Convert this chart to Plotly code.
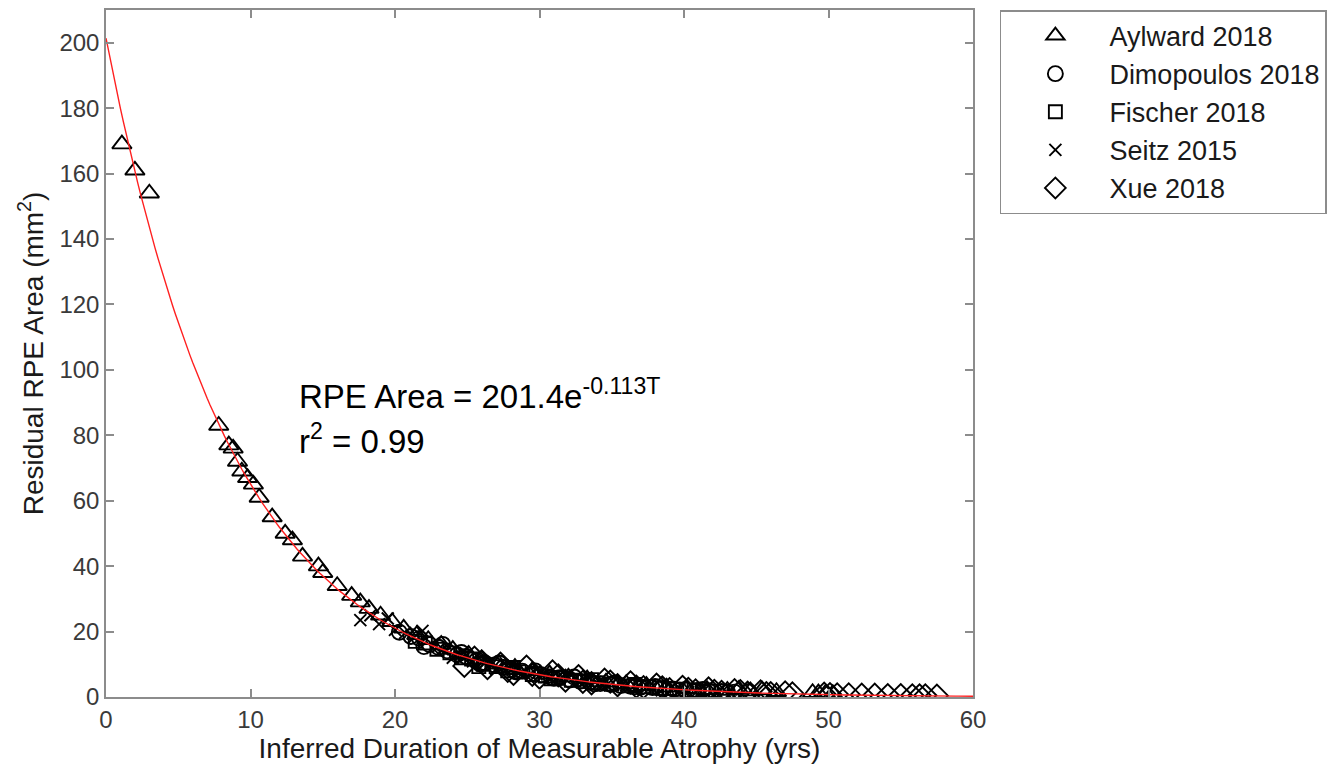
import numpy as np
import plotly.graph_objects as go

# ---- data ----
ayl_x = [1.1, 2.0, 3.0, 7.8, 8.5, 8.8, 9.1, 9.4, 9.8, 10.2, 10.6, 11.5, 12.4, 12.9, 13.6, 14.7,
         15.0, 16.0, 17.0, 17.6, 18.2, 19.0, 19.8, 20.6, 21.5, 22.3, 23.2, 24.0, 25.1, 26.0,
         27.2, 28.3, 29.5, 30.7, 32.0, 33.3, 34.6, 36.0, 37.4, 38.8, 40.2, 41.6, 43.0, 43.8,
         44.6, 45.4, 46.4, 48.9, 49.3, 49.8, 50.3]
ayl_y = [169, 161, 154, 83, 77, 76, 72, 69, 67, 65, 61, 55, 50, 48, 43, 40,
         38, 34, 31, 29, 27, 25, 23, 21, 19, 17.5, 16, 14.5, 13, 11.5,
         10, 9, 8, 7, 6, 5.5, 4.5, 4, 3.5, 3, 2.5, 2.2, 2, 2.3,
         1.8, 2.1, 1.6, 1.3, 1.2, 1.1, 1.0]

dim_x = [20.3, 21.1, 21.7, 22.0, 22.4, 23.0, 23.3, 23.6, 24.3, 24.6, 24.9, 25.6, 25.9, 26.2,
         26.9, 27.2, 27.5, 28.1, 28.4, 28.8, 29.4, 29.7, 30.1, 30.8, 31.0, 31.4, 32.1, 32.4,
         32.8, 33.5, 33.8, 34.2, 34.9, 35.2, 35.6, 36.3, 36.6, 37.0, 37.8, 38.0, 38.5, 39.3,
         39.7, 40.1, 40.9, 41.3, 41.7, 42.6, 43.0, 43.5, 44.5]
dim_y = [19.8, 18.5, 17.9, 15.4, 16.0, 15.2, 16.1, 14.1, 12.9, 13.6, 12.4, 11.0, 10.1, 10.5,
         9.8, 10.4, 9.0, 8.4, 7.6, 7.9, 7.1, 8.0, 6.8, 6.0, 5.7, 5.9, 5.2, 6.1,
         4.8, 4.6, 4.0, 4.1, 3.9, 4.3, 3.5, 3.3, 3.1, 3.0, 2.9, 3.2, 2.6, 2.4,
         2.1, 2.2, 2.0, 2.3, 1.9, 1.7, 1.5, 1.5, 1.7]

fis_x = [21.4, 22.1, 22.9, 23.8, 24.6, 25.3, 25.8, 26.1, 27.0, 27.8, 28.2, 28.6, 29.5, 30.4,
         30.8, 31.3, 32.2, 33.1, 33.6, 34.0, 35.0, 36.1, 36.6, 37.2, 38.3, 39.0, 39.5, 40.7,
         41.3, 41.9]
fis_y = [17.0, 16.5, 14.6, 13.5, 12.0, 11.6, 9.3, 10.0, 9.3, 8.0, 9.0, 7.7, 6.9, 6.4,
         5.6, 5.8, 5.1, 4.7, 5.3, 4.3, 3.9, 3.4, 3.8, 3.1, 2.7, 2.6, 2.4, 2.1,
         1.7, 1.8]

sei_x = [17.6, 18.3, 18.9, 19.5, 20.0, 20.7, 21.3, 21.9, 22.6, 23.3, 24.0, 24.7, 25.4, 26.2,
         27.0, 27.9, 28.8, 29.8, 30.9, 32.0, 33.2, 34.5, 36.0]
sei_y = [23.5, 25.0, 22.3, 24.0, 20.5, 19.6, 18.2, 20.2, 15.0, 14.6, 12.0, 13.8, 10.9, 10.3,
         8.6, 8.9, 7.2, 6.9, 6.1, 5.7, 4.9, 4.4, 3.6]

xue_x = [24.8, 25.5, 26.0, 26.4, 27.3, 27.8, 28.2, 29.1, 29.5, 30.0, 30.9, 31.3, 31.8, 32.7,
         33.0, 33.6, 34.5, 34.9, 35.4, 36.3, 36.7, 37.2, 38.1, 38.5, 39.0, 39.9, 40.3, 40.8,
         41.7, 42.1, 42.6, 43.5, 43.9, 44.4, 45.3, 45.7, 46.0, 47.0, 47.5, 49.7, 50.1, 50.6,
         51.4, 52.3, 53.2, 54.1, 55.0, 55.8, 56.3, 56.7, 57.5]
xue_y = [9.5, 12.0, 10.9, 8.8, 10.2, 8.0, 7.1, 9.3, 6.8, 5.9, 7.8, 6.6, 5.0, 6.4,
         4.6, 4.2, 5.3, 4.7, 3.6, 4.5, 3.2, 3.0, 3.8, 2.9, 2.4, 3.1, 2.5, 2.0,
         2.6, 1.9, 1.6, 2.1, 1.8, 1.3, 1.7, 1.2, 1.2, 1.4, 1.1, 1.0, 0.9, 0.8,
         0.8, 0.7, 0.7, 0.6, 0.6, 0.5, 0.5, 0.5, 0.4]

fit_a = 201.4
fit_b = -0.113

series = [
    ("Aylward 2018", ayl_x, ayl_y, "triangle-up-open", 17),
    ("Dimopoulos 2018", dim_x, dim_y, "circle-open", 15),
    ("Fischer 2018", fis_x, fis_y, "square-open", 13),
    ("Seitz 2015", sei_x, sei_y, "x-thin-open", 12),
    ("Xue 2018", xue_x, xue_y, "diamond-open", 17),
]

FONT = "Liberation Sans, Arial, sans-serif"

fig = go.Figure()
for i, (name, xs, ys, sym, sz) in enumerate(series):
    fig.add_trace(go.Scatter(
        x=xs, y=ys, mode="markers", name=name, legendgroup=f"g{i}",
        marker=dict(symbol=sym, size=sz, color="black",
                    line=dict(color="black", width=1.9)),
    ))

t = np.linspace(0, 60, 301)
fig.add_trace(go.Scatter(x=t, y=fit_a * np.exp(fit_b * t), mode="lines",
                         line=dict(color="#ff2020", width=1.4), showlegend=False,
                         hoverinfo="skip"))

axis_common = dict(
    showline=True, linecolor="#8c8c8c", linewidth=1.5, mirror="ticks",
    ticks="inside", ticklen=8, tickcolor="#8c8c8c", tickwidth=1.5,
    showgrid=False, zeroline=False, automargin=False,
    tickfont=dict(family=FONT, size=24, color="#3a3a3a"),
)

fig.update_layout(
    width=1334, height=773,
    paper_bgcolor="white", plot_bgcolor="white",
    margin=dict(l=98, r=369, t=2, b=84),
    font=dict(family=FONT, color="black"),
    xaxis=dict(range=[0, 60], dtick=10,
               title=dict(text="Inferred Duration of Measurable Atrophy (yrs)",
                          font=dict(family=FONT, size=28, color="#1a1a1a"), standoff=6),
               **axis_common),
    yaxis=dict(range=[0, 210], tickvals=[0, 20, 40, 60, 80, 100, 120, 140, 160, 180, 200],
               title=dict(text="Residual RPE Area (mm<sup>2</sup>)",
                          font=dict(family=FONT, size=28, color="#1a1a1a"), standoff=8),
               **axis_common),
    legend=dict(x=1.031, y=1.0, xanchor="left", yanchor="top",
                bordercolor="#8c8c8c", borderwidth=1.5, bgcolor="white",
                font=dict(family=FONT, size=27, color="#1a1a1a"),
                tracegroupgap=0, itemwidth=98),
    showlegend=True,
)

fig.add_annotation(x=13.2, y=92.5, xref="x", yref="y", xanchor="left", yanchor="middle",
                   text="RPE Area = 201.4e<sup>-0.113T</sup>", showarrow=False,
                   font=dict(family=FONT, size=33, color="black"))
fig.add_annotation(x=13.2, y=79, xref="x", yref="y", xanchor="left", yanchor="middle",
                   text="r<sup>2</sup> = 0.99", showarrow=False,
                   font=dict(family=FONT, size=33, color="black"))

fig.write_html("out.html")
